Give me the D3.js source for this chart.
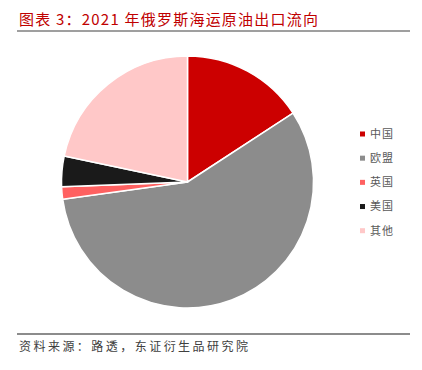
<!DOCTYPE html>
<html><head><meta charset="utf-8">
<script src="https://cdn.jsdelivr.net/npm/d3@7"></script>
<style>body{margin:0;background:#fff;} svg{display:block;}</style>
</head><body>
<svg id="c" width="422" height="370"></svg>
<script>
const categories = ["中国", "欧盟", "英国", "美国", "其他"];
const values = [15.8, 57.0, 1.6, 3.9, 21.7];
const colors = ["#CC0000", "#8C8C8C", "#FF6161", "#1A1A1A", "#FFC8C8"];
const titleText = "图表 3：2021 年俄罗斯海运原油出口流向";
const sourceText = "资料来源：路透，东证衍生品研究院";

const svg = d3.select("#c");
const font = "'Noto Sans CJK SC', sans-serif";

svg.append("text").attr("x", 19).attr("y", 25)
  .attr("font-family", font).attr("font-size", 15).attr("fill", "#C00000")
  .attr("textLength", 299).attr("lengthAdjust", "spacing")
  .text(titleText);
svg.append("line").attr("x1", 17).attr("x2", 410).attr("y1", 31).attr("y2", 31)
  .attr("stroke", "#404040").attr("stroke-width", 1.2);

const cx = 187.5, cy = 182, r = 126;
const pie = d3.pie().sort(null).value(d => d)(values);
const arc = d3.arc().innerRadius(0).outerRadius(r);
const g = svg.append("g").attr("transform", `translate(${cx},${cy})`);
g.selectAll("path").data(pie).join("path")
  .attr("d", arc).attr("fill", (d, i) => colors[i])
  .attr("stroke", "#fff").attr("stroke-width", 1.5).attr("stroke-linejoin", "round");

const ly = d3.scalePoint().domain(categories).range([134, 230.7]);
const lg = svg.append("g");
categories.forEach((c, i) => {
  lg.append("rect").attr("x", 360).attr("y", ly(c) - 2.5).attr("width", 5).attr("height", 5).attr("fill", colors[i]);
  lg.append("text").attr("x", 370).attr("y", ly(c)).attr("dy", "0.36em")
    .attr("font-family", font).attr("font-size", 11).attr("fill", "#595959")
    .attr("textLength", 23).attr("lengthAdjust", "spacing").text(c);
});

svg.append("line").attr("x1", 17).attr("x2", 410).attr("y1", 334).attr("y2", 334)
  .attr("stroke", "#8C8C8C").attr("stroke-width", 2);
svg.append("text").attr("x", 19).attr("y", 351)
  .attr("font-family", font).attr("font-size", 12).attr("fill", "#404040")
  .attr("textLength", 229).attr("lengthAdjust", "spacing")
  .text(sourceText);
</script>
</body></html>
